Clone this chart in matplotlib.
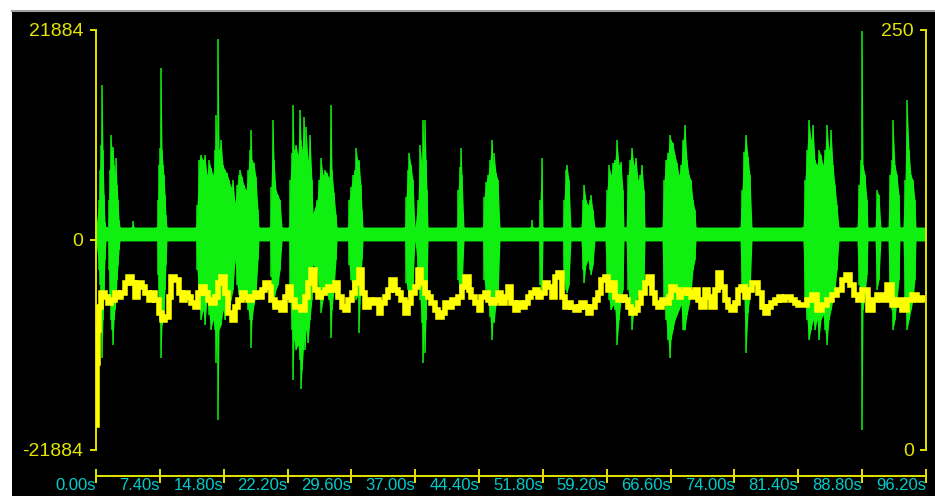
import matplotlib
matplotlib.use("Agg")
import matplotlib.pyplot as plt
from matplotlib.lines import Line2D
from matplotlib.patches import Rectangle

plt.rcParams["font.family"] = ["Liberation Sans", "DejaVu Sans"]

# left axis: waveform amplitude, right axis: level 0..250, x in seconds
amp_limit = 21884
level_limit = 250
x_ticks = [0.0, 7.4, 14.8, 22.2, 29.6, 37.0, 44.4, 51.8, 59.2, 66.6, 74.0, 81.4, 88.8, 96.2]
x_labels = ["%.2fs" % v for v in x_ticks]
left_ticks = [-21884, 0, 21884]
left_labels = ["-21884", "0", "21884"]
right_ticks = [0, 250]
right_labels = ["0", "250"]

# green waveform envelope (seconds, upper, lower), one line per burst
green_t = [
    0.00, 0.35, 0.46, 0.58, 0.70, 0.81, 0.93, 1.04, 1.16,
    1.39, 1.51, 1.62, 1.74, 1.85, 1.97, 2.09, 2.20, 2.32, 2.43, 2.55, 2.67, 2.78,
    4.20, 4.29, 4.40,
    7.07, 7.19, 7.30, 7.42, 7.53, 7.65, 7.77, 7.88, 8.00, 8.11, 8.23,
    11.59, 11.71, 11.94, 12.17, 12.40, 12.63, 12.86, 13.10, 13.33, 13.56, 13.79, 13.91, 14.02,
    14.14, 14.26, 14.49, 14.72, 14.95, 15.18, 15.41, 15.65, 15.88, 16.11, 16.34, 16.57, 16.69,
    16.92, 17.15, 17.39, 17.62, 17.85, 17.96, 18.08, 18.31, 18.54, 18.78, 18.89,
    20.17, 20.28, 20.51, 20.63, 20.86, 21.09, 21.33, 21.56,
    22.37, 22.48, 22.72, 22.83, 22.95, 23.18, 23.41, 23.64, 23.76, 23.88, 24.11, 24.22, 24.34, 24.57, 24.80, 25.03, 25.15,
    25.61, 25.85, 26.08, 26.31, 26.54, 26.77, 27.00, 27.24, 27.35, 27.58, 27.82, 27.93,
    29.21, 29.32, 29.55, 29.79, 30.02, 30.13, 30.37, 30.48, 30.71, 30.83, 30.95,
    35.81, 35.93, 36.16, 36.28, 36.51, 36.74, 36.97,
    37.32, 37.55, 37.78, 37.90, 38.02, 38.13, 38.25, 38.36, 38.48,
    41.84, 41.96, 42.19, 42.30, 42.42, 42.65,
    44.85, 44.97, 45.20, 45.43, 45.66, 45.90, 46.01, 46.13, 46.36, 46.59, 46.82,
    50.44, 50.53, 50.62,
    51.34, 51.46, 51.69, 51.81,
    54.13, 54.24, 54.48, 54.59, 54.82, 55.05,
    56.21, 56.44, 56.56, 56.79, 57.02, 57.25, 57.37, 57.60, 57.83,
    58.99, 59.22, 59.46, 59.69, 59.92, 60.15, 60.38, 60.62, 60.85, 61.08, 61.20,
    61.43, 61.66, 61.89, 62.12, 62.35, 62.59, 62.82, 63.05, 63.28, 63.51, 63.63,
    65.60, 65.83, 66.06, 66.29, 66.53, 66.64, 66.87, 67.11, 67.34, 67.57, 67.80, 68.03, 68.26,
    68.50, 68.73, 68.96, 69.19, 69.42, 69.54,
    74.64, 74.87, 75.10, 75.34, 75.57, 75.80, 76.03,
    81.94, 82.17, 82.40, 82.63, 82.87, 83.10, 83.33, 83.56, 83.79, 84.03, 84.26, 84.49, 84.72,
    84.95, 85.19, 85.42, 85.65, 85.88, 86.11,
    88.20, 88.43, 88.66, 88.78, 88.90, 89.13, 89.36, 89.47,
    90.29, 90.52, 90.75, 90.98,
    91.79, 92.02, 92.26, 92.37, 92.60, 92.84, 93.07, 93.18,
    93.53, 93.76, 94.00, 94.23, 94.46, 94.69, 94.92, 95.04,
    96.20,
]
green_hi = [
    1350, 4160, 7280, 9880, 16120, 9360, 4680, 1870, 1350,
    1350, 4160, 7280, 10920, 9360, 9670, 7800, 6760, 8530, 5720, 4160, 2080, 1350,
    1350, 1980, 1350,
    1350, 4160, 7800, 9570, 17890, 9360, 7800, 6760, 4680, 2600, 1350,
    1350, 3640, 8320, 8840, 8320, 8840, 6760, 8320, 7490, 6760, 9360, 13000, 8320,
    20900, 9360, 10400, 7800, 7280, 6970, 6240, 5510, 6240, 3850, 5720, 6760, 7280,
    6550, 5720, 5200, 7280, 9360, 11440, 8320, 8010, 6550, 3120, 1350,
    1350, 5510, 12480, 8320, 5200, 4680, 4160, 1350,
    1350, 6240, 9050, 14040, 9360, 9880, 8840, 13520, 10400, 9360, 12790, 9360, 11750, 8320, 10920, 6240, 2810,
    4160, 6240, 8530, 6760, 7280, 6970, 6450, 14040, 7280, 4890, 2600, 1350,
    1350, 4160, 5510, 6760, 7280, 9570, 8110, 8320, 5720, 3120, 1350,
    1350, 4470, 7280, 9050, 7800, 6240, 1350,
    4160, 9880, 7800, 12480, 9360, 12480, 8320, 5200, 1350,
    1350, 5200, 7590, 9570, 6760, 1350,
    1350, 4470, 6030, 6760, 8320, 10400, 7800, 9050, 6970, 6240, 1350,
    1350, 2080, 1350,
    1350, 4160, 8530, 1350,
    1350, 4160, 7280, 7800, 6240, 1350,
    1350, 4160, 5720, 4160, 3640, 4160, 4680, 3120, 1350,
    1350, 5200, 7800, 6760, 8010, 8320, 10400, 7800, 8110, 5200, 1350,
    1350, 6760, 8320, 9570, 7800, 8530, 6240, 6760, 7800, 5200, 1350,
    1350, 6240, 8320, 9050, 10920, 10400, 10090, 8840, 8010, 6760, 7800, 10400, 11960,
    8320, 6760, 6240, 4160, 3120, 1350,
    1350, 5200, 9150, 10920, 8630, 6760, 1350,
    1350, 6240, 9360, 12480, 10400, 11960, 8320, 7800, 9360, 8840, 7800, 9360, 11960,
    9360, 11440, 7800, 5720, 3640, 1350,
    1350, 5720, 8320, 21800, 7800, 6760, 4160, 1350,
    1350, 5200, 4680, 1350,
    1350, 6760, 8320, 12480, 7800, 6760, 4680, 1350,
    1350, 6240, 14560, 9360, 6760, 6240, 4160, 1350,
    1350,
]
green_lo = [
    -100, -3120, -4680, -8320, -12270, -8320, -5200, -2080, -100,
    -100, -3120, -6240, -8320, -9360, -10920, -8320, -7280, -6240, -4160, -2600, -1040, -100,
    -100, -100, -100,
    -100, -3640, -6240, -8320, -12270, -8840, -8320, -7280, -5200, -2600, -100,
    -100, -3120, -6240, -8320, -7280, -8840, -6240, -7800, -9360, -8320, -9360, -12790, -8840,
    -18720, -9360, -8840, -7280, -8320, -6240, -7280, -6240, -5200, -2080, -4680, -5720, -6240,
    -5200, -5930, -6240, -7280, -8320, -11230, -8320, -6760, -5720, -2080, -100,
    -100, -3850, -6970, -6240, -5200, -4680, -3120, -100,
    -100, -6240, -9360, -14560, -10400, -11440, -10920, -12480, -15500, -13520, -10400, -11440, -9360, -10710, -8320, -6240, -2600,
    -3120, -5200, -7590, -6240, -5200, -5720, -6240, -10190, -7280, -5200, -2080, -100,
    -100, -2600, -4160, -5200, -5510, -6240, -5720, -9670, -4160, -2080, -100,
    -100, -4470, -5200, -5930, -5720, -4680, -100,
    -3120, -6240, -8630, -12790, -9360, -11750, -8320, -5200, -100,
    -100, -4160, -5510, -5930, -5200, -100,
    -100, -4160, -5200, -6240, -8010, -10400, -8320, -8630, -6760, -6240, -100,
    -100, -100, -100,
    -100, -4680, -5930, -100,
    -100, -4160, -5200, -5510, -4680, -100,
    -100, -3120, -4470, -2600, -2080, -3120, -3640, -2600, -100,
    -100, -4160, -6240, -7280, -6760, -7280, -10920, -8320, -6240, -5200, -100,
    -100, -5200, -6240, -9360, -7280, -6760, -5720, -5930, -5200, -4160, -100,
    -100, -6240, -8320, -10400, -12270, -10400, -9360, -8320, -7800, -7280, -6760, -9360, -9360,
    -7800, -6760, -5720, -3120, -2080, -100,
    -100, -5200, -6240, -11750, -7590, -5720, -100,
    -100, -6240, -8320, -10400, -9360, -8320, -9360, -8320, -10400, -8320, -7800, -9360, -10920,
    -8320, -7280, -6240, -5200, -3120, -100,
    -100, -4680, -6240, -19760, -7280, -5720, -3640, -100,
    -100, -5200, -4160, -100,
    -100, -6240, -7280, -9360, -8320, -6240, -4160, -100,
    -100, -6240, -9360, -8320, -7280, -6240, -4160, -100,
    -100,
]

# yellow level trace (seconds, value on the right axis)
yellow_t = [
    0.00, 0.12, 0.23, 0.46, 0.81, 1.27, 1.62, 1.97, 2.43, 2.78,
    3.13, 3.59, 3.94, 4.29, 4.75, 5.10, 5.45, 5.91, 6.26, 6.61,
    7.07, 7.42, 7.77, 8.23, 8.58, 8.92, 9.39, 9.74, 10.08, 10.55,
    10.89, 11.24, 11.71, 12.05, 12.40, 12.86, 13.21, 13.56, 14.02, 14.37,
    14.72, 15.18, 15.53, 15.88, 16.34, 16.69, 17.04, 17.50, 17.85, 18.20,
    18.66, 19.01, 19.36, 19.82, 20.17, 20.51, 20.98, 21.33, 21.67, 22.14,
    22.48, 22.83, 23.30, 23.64, 23.99, 24.45, 24.80, 25.15, 25.61, 25.96,
    26.31, 26.77, 27.12, 27.47, 27.93, 28.28, 28.63, 29.09, 29.44, 29.79,
    30.25, 30.60, 30.95, 31.41, 31.76, 32.10, 32.57, 32.92, 33.26, 33.73,
    34.07, 34.42, 34.89, 35.23, 35.58, 36.04, 36.39, 36.74, 37.20, 37.55,
    37.90, 38.36, 38.71, 39.06, 39.52, 39.87, 40.22, 40.68, 41.03, 41.38,
    41.84, 42.19, 42.54, 43.00, 43.35, 43.69, 44.16, 44.51, 44.85, 45.32,
    45.66, 46.01, 46.48, 46.82, 47.17, 47.63, 47.98, 48.33, 48.79, 49.14,
    49.49, 49.95, 50.30, 50.65, 51.11, 51.46, 51.81, 52.27, 52.62, 52.97,
    53.43, 53.78, 54.13, 54.59, 54.94, 55.28, 55.75, 56.10, 56.44, 56.91,
    57.25, 57.60, 58.07, 58.41, 58.76, 59.22, 59.57, 59.92, 60.38, 60.73,
    61.08, 61.54, 61.89, 62.24, 62.70, 63.05, 63.40, 63.86, 64.21, 64.56,
    65.02, 65.37, 65.72, 66.18, 66.53, 66.87, 67.34, 67.69, 68.03, 68.50,
    68.85, 69.19, 69.66, 70.00, 70.35, 70.81, 71.16, 71.51, 71.97, 72.32,
    72.67, 73.13, 73.48, 73.83, 74.29, 74.64, 74.99, 75.45, 75.80, 76.15,
    76.61, 76.96, 77.31, 77.77, 78.12, 78.46, 78.93, 79.28, 79.62, 80.09,
    80.43, 80.78, 81.25, 81.59, 82.17, 82.75, 83.33, 83.91, 84.49, 85.07,
    85.65, 86.23, 86.81, 87.16, 87.62, 88.08, 88.55, 89.13, 89.71, 90.29,
    90.86, 91.44, 92.02, 92.60, 93.18, 93.76, 94.33, 94.92, 95.50, 96.08,
]
yellow_v = [
    14.9, 51.8, 71.4, 85.1, 93.5, 91.1, 87.5, 89.3, 93.5, 91.1,
    93.5, 99.4, 103.0, 99.4, 91.1, 99.4, 97.0, 93.5, 89.3, 93.5,
    89.3, 81.5, 77.4, 79.2, 91.1, 103.0, 101.2, 93.5, 89.3, 93.5,
    91.1, 87.5, 85.1, 93.5, 97.0, 93.5, 89.3, 87.5, 91.1, 99.4,
    103.0, 93.5, 81.5, 77.4, 85.1, 89.3, 93.5, 91.1, 89.3, 91.1,
    93.5, 91.1, 95.2, 99.4, 97.0, 89.3, 85.1, 87.5, 83.3, 91.1,
    97.0, 89.3, 85.1, 85.1, 83.3, 91.1, 99.4, 107.1, 95.2, 91.1,
    93.5, 95.2, 97.0, 95.2, 99.4, 91.1, 85.1, 83.3, 89.3, 93.5,
    99.4, 107.1, 93.5, 85.1, 89.3, 87.5, 89.3, 81.5, 87.5, 91.1,
    95.2, 101.2, 95.2, 93.5, 89.3, 81.5, 87.5, 93.5, 97.0, 107.1,
    99.4, 93.5, 91.1, 87.5, 83.3, 79.2, 81.5, 87.5, 85.1, 89.3,
    87.5, 91.1, 97.0, 103.0, 95.2, 91.1, 87.5, 83.3, 91.1, 93.5,
    89.3, 87.5, 89.3, 93.5, 87.5, 91.1, 97.0, 87.5, 83.3, 87.5,
    85.1, 87.5, 91.1, 93.5, 95.2, 91.1, 93.5, 99.4, 97.0, 91.1,
    103.0, 105.4, 91.1, 85.1, 87.5, 85.1, 83.3, 85.1, 87.5, 85.1,
    81.5, 85.1, 89.3, 93.5, 101.2, 103.0, 95.2, 99.4, 91.1, 89.3,
    91.1, 89.3, 85.1, 81.5, 83.3, 87.5, 93.5, 99.4, 103.0, 93.5,
    87.5, 85.1, 89.3, 87.5, 91.1, 97.0, 95.2, 91.1, 93.5, 95.2,
    93.5, 91.1, 95.2, 89.3, 85.1, 95.2, 91.1, 85.1, 95.2, 105.4,
    97.0, 89.3, 85.1, 83.3, 87.5, 95.2, 97.0, 91.1, 95.2, 99.4,
    99.4, 93.5, 85.1, 81.5, 85.1, 87.5, 89.3, 91.1, 89.3, 91.1,
    91.1, 89.3, 87.5, 86.3, 86.3, 89.3, 92.3, 83.3, 86.3, 89.3,
    92.3, 95.2, 101.2, 104.2, 98.2, 92.3, 89.3, 95.2, 83.3, 89.3,
    92.3, 89.3, 98.2, 86.3, 89.3, 83.3, 89.3, 92.3, 89.3, 90.5,
]

axis_yellow = "#E4E400"
trace_yellow = "#FFFF00"
wave_green = "#10F010"
label_cyan = "#00CCCC"

W, H = 935, 496
fig = plt.figure(figsize=(W / 100, H / 100), dpi=100, facecolor="white")
fig.patches.append(Rectangle((12 / W, 0), 1 - 12 / W, 1 - 12 / H, transform=fig.transFigure,
                             facecolor="black", edgecolor="none", zorder=-10))
fig.lines.append(Line2D([12 / W, 1], [1 - 11 / H, 1 - 11 / H], transform=fig.transFigure,
                        color="#a0a0a0", lw=1.5))

ax = fig.add_axes([96 / W, 1 - 450 / H, 830 / W, 420 / H])
ax.set_facecolor("none")
ax.fill_between(green_t, green_lo, green_hi, color=wave_green, lw=0)
ax.vlines(green_t, green_lo, green_hi, color=wave_green, lw=1.1)
ax.set_xlim(0, 96.2)
ax.set_ylim(-amp_limit, amp_limit)

for side in ["top", "right"]:
    ax.spines[side].set_visible(False)
ax.spines["left"].set_color(axis_yellow)
ax.spines["left"].set_linewidth(1.4)
ax.spines["bottom"].set_color(axis_yellow)
ax.spines["bottom"].set_linewidth(1.4)
ax.spines["bottom"].set_position(("outward", 18.7))

ax.set_yticks(left_ticks)
ax.set_yticklabels(left_labels)
ax.tick_params(axis="y", direction="out", length=4.3, width=1.4, color=axis_yellow,
               labelcolor=axis_yellow, labelsize=14, pad=5)

ax.set_xticks(x_ticks)
ax.set_xticklabels(x_labels, ha="right")
ax.tick_params(axis="x", direction="inout", length=10, width=1.4, color=axis_yellow,
               labelcolor=label_cyan, labelsize=12, pad=-3.4)

ax2 = ax.twinx()
ax2.set_facecolor("none")
ax2.plot(yellow_t, yellow_v, color=trace_yellow, lw=4, drawstyle="steps-mid",
         solid_joinstyle="miter")
ax2.set_ylim(0, level_limit)
for side in ["top", "left", "bottom"]:
    ax2.spines[side].set_visible(False)
ax2.spines["right"].set_color(axis_yellow)
ax2.spines["right"].set_linewidth(1.4)
ax2.set_yticks(right_ticks)
ax2.set_yticklabels(right_labels, ha="right")
ax2.tick_params(axis="y", direction="in", length=4.3, width=1.4, color=axis_yellow,
                labelcolor=axis_yellow, labelsize=14, pad=-8.6)

fig.savefig("out.png", dpi=100, facecolor="white")
